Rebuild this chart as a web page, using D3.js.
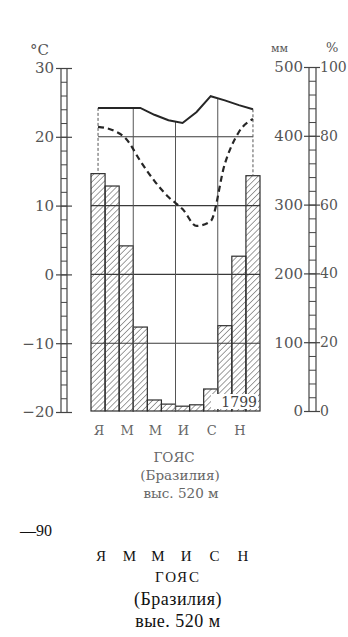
<!DOCTYPE html>
<html>
<head>
<meta charset="utf-8">
<script src="https://d3js.org/d3.v7.min.js"></script>
<style>
  body{margin:0;background:#fff;}
  svg{display:block;}
  .lbl{font-family:"DejaVu Serif",serif;fill:#555;}
  .ocr{font-family:"Liberation Serif","Times New Roman",serif;fill:#111;}
</style>
</head>
<body>
<div id="chart"></div>
<script>
//climate data for the station
var months = ['Я','Ф','М','А','М','И','И','А','С','О','Н','Д'];
var precip = [345,327,240,122,16,10,7,9,32,124,225,342];          // mm
var temp = [24.2,24.2,24.2,24.2,23.2,22.4,22.0,23.6,25.9,25.3,24.6,24.0]; // °C
var humidity = [82.6,81.7,79.1,72.7,66.9,62.2,58.7,53.8,55.2,71.8,81.1,84.9]; // %
var monthLabels = ['Я','М','М','И','С','Н'];
var tempTicks = [30,20,10,0,-10,-20];
var precipTicks = [500,400,300,200,100,0];
var humTicks = [100,80,60,40,20,0];
var annualTotal = '1799';
var caption = ['ГОЯС','(Бразилия)','выс. 520 м'];
var ocrNumber = '—90';
var ocrCaption = ['ГОЯС','(Бразилия)','вые. 520 м'];

var W = 348, H = 637;

var svg = d3.select('#chart').append('svg')
    .attr('width',W).attr('height',H);

//scales
var x = d3.scaleBand().domain(d3.range(12)).range([91,260]).padding(0);
var cx = function(i){ return x(i) + x.bandwidth()/2; };
var yT = d3.scaleLinear().domain([-20,30]).range([412,68]);
var yP = d3.scaleLinear().domain([0,500]).range([411,67]);
var yH = d3.scaleLinear().domain([0,100]).range([411,67]);

//hatch pattern for the precipitation bars
var defs = svg.append('defs');
defs.append('pattern')
    .attr('id','hatch')
    .attr('patternUnits','userSpaceOnUse')
    .attr('width',4.2).attr('height',4.2)
    .attr('patternTransform','rotate(45)')
  .append('line')
    .attr('x1',0).attr('y1',0).attr('x2',0).attr('y2',4.2)
    .attr('stroke','#5e5e5e').attr('stroke-width',1.2);

var plot = svg.append('g').attr('class','plot');

//bars
plot.selectAll('.bar')
    .data(precip)
  .enter().append('rect')
    .attr('class','bar')
    .attr('x',function(d,i){ return x(i); })
    .attr('width',x.bandwidth())
    .attr('y',function(d){ return yP(d); })
    .attr('height',function(d){ return yP(0) - yP(d); })
    .attr('fill','url(#hatch)')
    .attr('stroke','#2e2e2e')
    .attr('stroke-width',1.2);

//horizontal grid
plot.selectAll('.hgrid')
    .data([20,10,0,-10])
  .enter().append('line')
    .attr('class','hgrid')
    .attr('x1',function(d){ return d == 20 ? cx(0) : x(0); })
    .attr('x2',function(d){ return d == 20 ? cx(11) : x(11) + x.bandwidth(); })
    .attr('y1',function(d){ return yT(d); })
    .attr('y2',function(d){ return yT(d); })
    .attr('stroke','#3a3a3a').attr('stroke-width',1.1);

//vertical grid at the quarter boundaries, from the temperature line down
plot.selectAll('.vgrid')
    .data([3,6,9])
  .enter().append('line')
    .attr('class','vgrid')
    .attr('x1',function(d){ return x(d); })
    .attr('x2',function(d){ return x(d); })
    .attr('y1',function(d){ return yT((temp[d-1]+temp[d])/2); })
    .attr('y2',yT(-20))
    .attr('stroke','#555').attr('stroke-width',1);

//dashed verticals at January and December
plot.selectAll('.edge')
    .data([0,11])
  .enter().append('line')
    .attr('class','edge')
    .attr('x1',function(d){ return cx(d); })
    .attr('x2',function(d){ return cx(d); })
    .attr('y1',function(d){ return yT(temp[d]); })
    .attr('y2',function(d){ return yP(precip[d]); })
    .attr('stroke','#555').attr('stroke-width',1)
    .attr('stroke-dasharray','3,2');

//temperature (solid) and humidity (dashed)
var lineT = d3.line()
    .x(function(d,i){ return cx(i); })
    .y(function(d){ return yT(d); });
var lineH = d3.line()
    .x(function(d,i){ return cx(i); })
    .y(function(d){ return yH(d); })
    .curve(d3.curveMonotoneX);

plot.append('path').datum(temp)
    .attr('d',lineT)
    .attr('fill','none').attr('stroke','#262626').attr('stroke-width',2);
plot.append('path').datum(humidity)
    .attr('d',lineH)
    .attr('fill','none').attr('stroke','#262626').attr('stroke-width',2.2)
    .attr('stroke-dasharray','6,4');

//annual total
var tot = plot.append('g');
tot.append('rect')
    .attr('x',211).attr('y',394).attr('width',47).attr('height',15)
    .attr('fill','#fff');
tot.append('text')
    .attr('class','lbl')
    .attr('x',257).attr('y',407)
    .attr('text-anchor','end')
    .attr('font-size',14)
    .style('fill','#444')
    .text(annualTotal);

//left ladder axis (°C)
var left = svg.append('g').attr('class','axisT');
[61,67].forEach(function(lx){
  left.append('line')
      .attr('x1',lx).attr('x2',lx)
      .attr('y1',yT(30)).attr('y2',yT(-20))
      .attr('stroke','#444').attr('stroke-width',1.2);
});
left.append('g')
    .attr('transform','translate(67,0)')
    .call(d3.axisLeft(yT).tickValues(d3.range(-20,31,2)).tickSize(6).tickFormat(''))
    .call(function(g){ g.select('.domain').remove(); g.selectAll('line').attr('stroke','#444'); });
left.append('g')
    .attr('transform','translate(72,0)')
    .call(d3.axisLeft(yT).tickValues(tempTicks).tickSize(16).tickPadding(2))
    .call(function(g){
      g.select('.domain').remove();
      g.selectAll('line').attr('stroke','#444').attr('stroke-width',1.2);
      g.selectAll('text').attr('class','lbl').attr('font-size',15).attr('font-family',null).attr('fill',null);
    });
svg.append('text').attr('class','lbl')
    .attr('x',30).attr('y',55).attr('font-size',15)
    .text('°C');

//right ladder axis (mm and %)
var right = svg.append('g').attr('class','axisP');
[309,316].forEach(function(lx){
  right.append('line')
      .attr('x1',lx).attr('x2',lx)
      .attr('y1',yP(500)).attr('y2',yP(0))
      .attr('stroke','#444').attr('stroke-width',1.2);
});
right.append('g')
    .attr('transform','translate(316,0)')
    .call(d3.axisLeft(yP).tickValues(d3.range(0,501,20)).tickSize(7).tickFormat(''))
    .call(function(g){ g.select('.domain').remove(); g.selectAll('line').attr('stroke','#444'); });
right.append('g')
    .attr('transform','translate(320,0)')
    .call(d3.axisLeft(yP).tickValues(precipTicks).tickSize(16).tickPadding(1))
    .call(function(g){
      g.select('.domain').remove();
      g.selectAll('line').attr('stroke','#444').attr('stroke-width',1.2);
      g.selectAll('text').attr('class','lbl').attr('font-size',15).attr('font-family',null).attr('fill',null);
    });
right.append('g')
    .attr('transform','translate(320,0)')
    .call(d3.axisRight(yH).tickValues(humTicks).tickSize(0).tickPadding(0))
    .call(function(g){
      g.select('.domain').remove();
      g.selectAll('text').attr('class','lbl').attr('font-size',14).attr('font-family',null).attr('fill',null);
    });
svg.append('text').attr('class','lbl')
    .attr('x',271).attr('y',52).attr('font-size',11)
    .text('мм');
svg.append('text').attr('class','lbl')
    .attr('x',326).attr('y',52).attr('font-size',13)
    .text('%');

//month letters under the bars
svg.selectAll('.mlab')
    .data(monthLabels)
  .enter().append('text')
    .attr('class','lbl mlab')
    .attr('x',function(d,i){ return cx(i*2) + 1; })
    .attr('y',435)
    .attr('text-anchor','middle')
    .attr('font-size',13)
    .style('fill','#666')
    .text(function(d){ return d; });

//station caption
var capX = [174,180,181], capY = [462,480,498];
svg.selectAll('.cap')
    .data(caption)
  .enter().append('text')
    .attr('class','lbl cap')
    .attr('x',function(d,i){ return capX[i]; })
    .attr('y',function(d,i){ return capY[i]; })
    .attr('text-anchor','middle')
    .attr('font-size',13.5)
    .style('fill','#666')
    .text(function(d){ return d; });

//plain text block under the picture
svg.append('text').attr('class','ocr')
    .attr('x',20).attr('y',536).attr('font-size',16)
    .text(ocrNumber);

var ox = d3.scalePoint().domain(d3.range(monthLabels.length)).range([101,243]);
svg.selectAll('.omlab')
    .data(monthLabels)
  .enter().append('text')
    .attr('class','ocr omlab')
    .attr('x',function(d,i){ return ox(i); })
    .attr('y',561)
    .attr('text-anchor','middle')
    .attr('font-size',15)
    .text(function(d){ return d; });

var oY = [582,605,627];
svg.selectAll('.ocap')
    .data(ocrCaption)
  .enter().append('text')
    .attr('class','ocr ocap')
    .attr('x',178)
    .attr('y',function(d,i){ return oY[i]; })
    .attr('text-anchor','middle')
    .attr('font-size',function(d,i){ return i == 0 ? 15 : 18; })
    .attr('letter-spacing',function(d,i){ return i == 0 ? 2 : 0.5; })
    .text(function(d){ return d; });
</script>
</body>
</html>
